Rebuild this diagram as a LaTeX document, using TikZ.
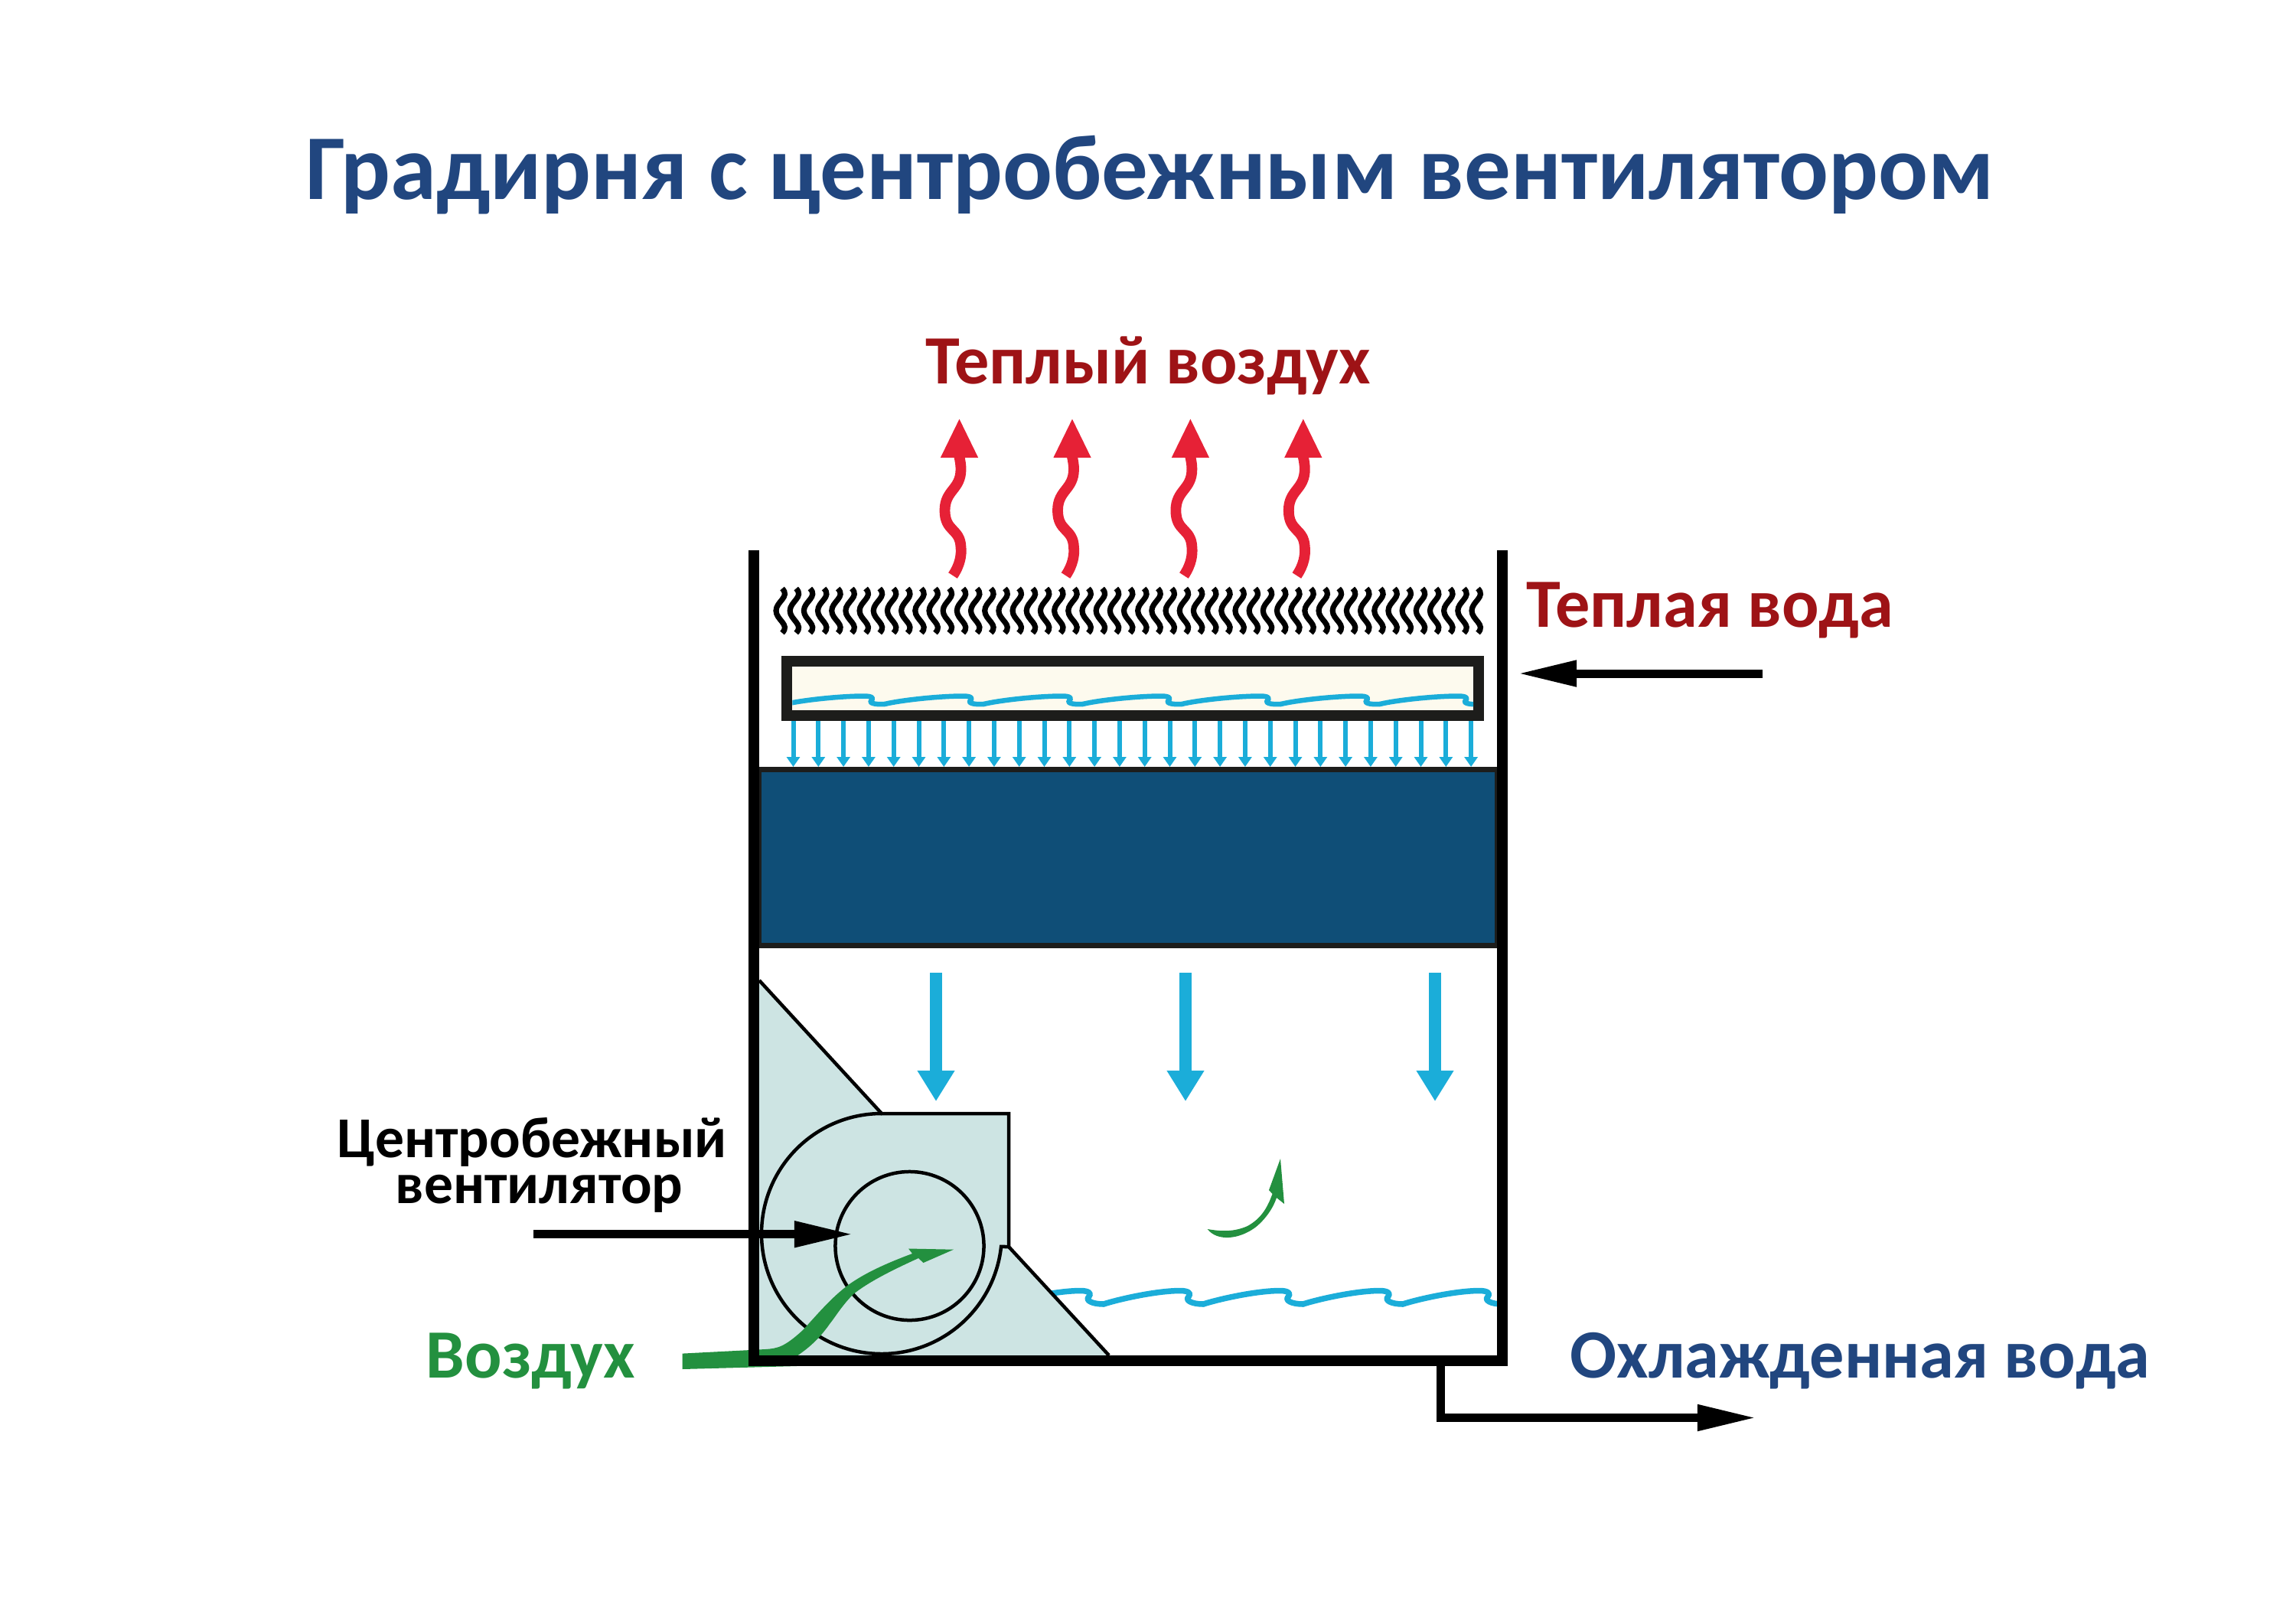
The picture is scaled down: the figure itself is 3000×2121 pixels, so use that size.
\documentclass[tikz,border=0pt]{standalone}
\usepackage{fontspec}
\setmainfont{Carlito}
\usetikzlibrary{arrows.meta}
\definecolor{titleBlue}{HTML}{21467F}
\definecolor{warmRed}{HTML}{9E1316}
\definecolor{steamRed}{HTML}{E62136}
\definecolor{airGreen}{HTML}{23903F}
\definecolor{waterCyan}{HTML}{1BADD9}
\definecolor{packBlue}{HTML}{0F4E77}
\definecolor{fanGrey}{HTML}{CDE4E3}
\definecolor{ink}{HTML}{1D1D1B}
\definecolor{tankFill}{HTML}{FDFAEE}

\begin{document}
\begin{tikzpicture}[x=0.01cm,y=-0.01cm,
  label/.style={inner sep=0pt,anchor=base west,font=\bfseries},
  bigtext/.style={label,font=\fontsize{25.7}{25.7}\selectfont\bfseries},
  fantext/.style={label,font=\fontsize{21.5}{21.5}\selectfont\bfseries},
  fanline/.style={draw=black,line width=0.45mm},
  thickarrow/.style={line width=1.1mm,-{Triangle[length=0.77cm,width=0.32cm]}},
  dropflow/.style={waterCyan,line width=0.6mm,-{Triangle[length=1.3mm,width=1.7mm]}},
  fallflow/.style={waterCyan,line width=1.6mm,-{Triangle[length=0.4cm,width=0.46cm]}},
  steam/.style={steamRed,line width=1.38mm,-{Triangle[length=0.52cm,width=0.45cm]}},
  waterline/.style={waterCyan,line cap=round,line join=round}]
\useasboundingbox (0,0) rectangle (3000,2121);
% labels
\node[label,font=\fontsize{34.4}{34.4}\selectfont\bfseries,text=titleBlue] (title) at (399,260) {Градирня с центробежным вентилятором};
\node[bigtext,text=warmRed] (airout) at (1209,501) {Теплый воздух};
\node[bigtext,text=warmRed] (hotwater) at (1994,819) {Теплая вода};
\node[bigtext,text=titleBlue] (coldwater) at (2051,1800) {Охлажденная вода};
\node[bigtext,text=airGreen] (airin) at (556,1800) {Воздух};
\node[fantext] (fanname) at (440,1512) {Центробежный};
\node[fantext] (fanname2) at (516,1572) {вентилятор};
% warm air rising
\foreach \x in {1253.5,1401,1555.4,1702.8}
  \draw[steam] ({\x-8.5},752) .. controls ({\x+1},738) and ({\x+3},725) .. ({\x+2},715)
    .. controls ({\x+1},690) and ({\x-19},695) .. ({\x-19},667)
    .. controls ({\x-19},640) and ({\x+2},640) .. ({\x+2},613)
    .. controls ({\x+2},607) and ({\x+1},602) .. (\x,597) -- (\x,546);
% black drift waves
\foreach \i in {0,...,50} {
  \pgfmathsetmacro\wx{1022+18.18*\i}
  \draw[black,line width=0.72mm] (\wx,769) .. controls ({\wx+11},780) and ({\wx-8},786) .. ({\wx-8},798)
    .. controls ({\wx-8},810) and ({\wx+11},816) .. (\wx,827);
}
% distribution tank
\node[draw=ink,fill=tankFill,line width=1.4mm,inner sep=0pt,minimum width=9.035cm,minimum height=0.715cm] (tank) at (1479.7,899.7) {};
\begin{scope}
  \clip (1035.4,871) rectangle (1925,929);
  \foreach \k in {0,...,7} {
    \pgfmathsetmacro\hx{1137+129.4*\k}
    \draw[waterline,line width=0.65mm] ({\hx-110.4},920) .. controls ({\hx-90},915) and ({\hx-40},909.5) .. ({\hx-8},909.5)
      .. controls ({\hx+2},909.5) and ({\hx+5},912) .. ({\hx+2},915) .. controls ({\hx-3},918) and ({\hx+5},921) .. ({\hx+19},920);
  }
\end{scope}
% falling drops
\foreach \i in {0,...,27} {
  \pgfmathsetmacro\dx{1036.5+32.8*\i}
  \draw[dropflow] (\dx,942) -- (\dx,1002);
}
% fill pack
\node[draw=ink,fill=packBlue,line width=0.7mm,inner sep=0pt,minimum width=9.64cm,minimum height=2.3cm] (pack) at (1474,1120.5) {};
% falling water below the pack
\foreach \x in {1223,1549,1875}
  \draw[fallflow] (\x,1271) -- (\x,1439);
% basin water
\foreach \k in {0,...,4} {
  \pgfmathsetmacro\hx{1420+130.3*\k}
  \draw[waterline,line width=0.75mm] ({\hx-108.3},1704) .. controls ({\hx-90},1698) and ({\hx-40},1686.5) .. ({\hx-8},1686.5)
    .. controls ({\hx+2},1686.5) and ({\hx+7},1690) .. ({\hx+3},1694) .. controls ({\hx-3},1699) and ({\hx+7},1704) .. ({\hx+22},1704);
}
% fan housing
\fill[fanGrey] (992,1281) -- (1152,1455) -- (1318,1455) -- (1318,1629) -- (1449,1771) -- (992,1771) -- cycle;
\draw[fanline] (992,1281) -- (1152,1455) -- (1318,1455) -- (1318,1629) -- (1449,1771);
\draw[fanline] (1152,1455) arc[start angle=-90,end angle=-353.8,radius=157] -- (1318,1629);
\node[draw=black,line width=0.45mm,circle,inner sep=0pt,minimum size=1.94cm] (rotor) at (1188.5,1628) {};
% air path
\fill[airGreen] (891.5,1768.6) -- (1000,1763) .. controls (1016,1762) and (1025,1760) .. (1049,1738)
  .. controls (1070,1715) and (1085,1697) .. (1107,1680) .. controls (1130,1663) and (1160,1650) .. (1192,1638)
  -- (1187,1631.5) -- (1246,1632.7) -- (1206.5,1650) -- (1200,1644)
  .. controls (1165,1660) and (1135,1675) .. (1115,1691) .. controls (1100,1706) and (1092,1720) .. (1084,1730)
  .. controls (1072,1747) and (1060,1759) .. (1041,1772) -- (1041,1785) -- (891.5,1789) -- cycle;
\fill[airGreen] (1577.7,1606) .. controls (1590,1622) and (1618,1620) .. (1640,1604) .. controls (1655,1592) and (1664,1577) .. (1668,1565)
  -- (1678,1573) -- (1673,1514) -- (1658,1555) -- (1662.5,1560)
  .. controls (1656,1578) and (1648,1592) .. (1630,1602) .. controls (1612,1610) and (1595,1609) .. cycle;
% tower walls
\draw[black,line width=1.45mm,line join=miter] (985,719) -- (985,1778) -- (1963,1778) -- (1963,719);
% connectors
\coordinate (fanstart) at (697,1612.7);
\coordinate (fantip) at (1115,1612.7);
\coordinate (hotstart) at (2303,880);
\coordinate (hottip) at (1983,880);
\coordinate (drainstart) at (1882.5,1785);
\coordinate (draincorner) at (1882.5,1852.5);
\coordinate (draintip) at (2295,1852.5);
\draw[thickarrow] (fanstart) -- (fantip);
\draw[thickarrow] (hotstart) -- (hottip);
\draw[thickarrow] (drainstart) -- (draincorner) -- (draintip);
\end{tikzpicture}
\end{document}
